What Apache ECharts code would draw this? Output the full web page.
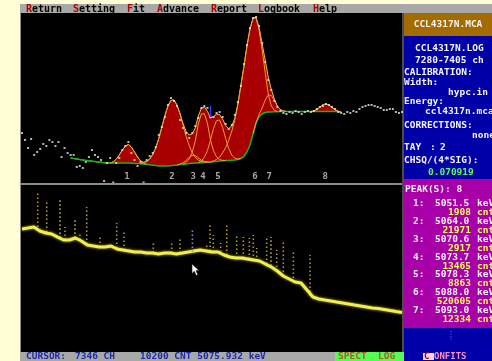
<!DOCTYPE html>
<html>
<head>
<meta charset="utf-8">
<script src="https://cdn.jsdelivr.net/npm/echarts@6/dist/echarts.min.js"></script>
<style>
  html, body { margin: 0; padding: 0; background: #fffed4; }
  #chart { width: 492px; height: 361px; }
</style>
</head>
<body>
<div id="chart"></div>
<script>
// ---- Fit window (channels 7280-7405) ----
const dataStart = 7280;
const dataCounts = [
  5100, 4400, 3600, 4500, 2900, 3200, 3500, 4000, 3800, 4400,
  4200, 3800, 4200, 2700, 3600, 3100, 2900, 2900, 1700, 1800,
  1600, 2200, 2700, 3400, 2900, 2700, 2400, 300, 2100, 2600,
  150, 2100, 2600, 3400, 3800, 4200, 3100, 2400, 1800, 2200,
  150, 2400, 2800, 3100, 3700, 4900, 5700, 6700, 7900, 8600,
  8300, 7800, 6400, 5600, 5100, 4600, 5100, 5800, 6600, 7600,
  7800, 7600, 6700, 6700, 7100, 7200, 6700, 6000, 5500, 5900,
  6900, 8200, 9800, 12000, 13900, 15600, 16600, 16700, 15800, 14100,
  12200, 10400, 9400, 8300, 7700, 7300, 7100, 7000, 7200, 7100,
  7300, 7200, 7000, 7200, 7300, 7200, 7300, 7500, 7700, 7800,
  8000, 7900, 7700, 7500, 7200, 7100, 7000, 7200, 7100, 7300,
  7200, 7500, 7700, 7800, 7900, 7900, 7800, 7700, 7600, 7400,
  7400, 7500, 7500, 7200, 7100, 7200
];

// step background under the fitted peaks
const fitStart = 7296;
const fitBaseline = [
  2600, 2550, 2500, 2450, 2400, 2360, 2320, 2280, 2240, 2200,
  2170, 2130, 2100, 2100, 2100, 2100, 2100, 2100, 2100, 2100,
  2080, 2060, 2040, 2020, 2000, 1960, 1920, 1880, 1840, 1800,
  1800, 1800, 1800, 1830, 1870, 1900, 1940, 1980, 2010, 2050,
  2070, 2090, 2110, 2130, 2150, 2170, 2190, 2220, 2250, 2300,
  2320, 2340, 2360, 2380, 2400, 2450, 2550, 2750, 3200, 3900,
  5000, 6100, 6700, 7000, 7150, 7200, 7210, 7220, 7230, 7240,
  7250, 7250, 7250, 7250, 7250, 7250, 7250, 7250, 7250, 7250,
  7250, 7250, 7250, 7250, 7250, 7250, 7250, 7250, 7230, 7200
];

// fitted peak components, counts above the background, one value per channel
const peakStarts = [7309, 7319, 7331, 7333, 7338, 7342, 7356, 7375];
const peak1 = [0, 100, 400, 800, 1300, 1700, 1850, 1620, 1140, 660, 280, 50, 0];
const peak2 = [0, 130, 290, 580, 1060, 1780, 2750, 3890, 5040, 5990, 6530, 6530, 5990, 5040, 3890, 2750, 1780, 1060, 580, 290, 130, 50, 0];
const peak3 = [0, 50, 150, 350, 620, 790, 740, 510, 260, 100, 30, 0];
const peak4 = [0, 150, 450, 1100, 2200, 3900, 4870, 4870, 3900, 2200, 1100, 450, 150, 40, 0];
const peak5 = [0, 180, 520, 1180, 2200, 3330, 4090, 4090, 3330, 2200, 1180, 520, 180, 50, 0];
const peak6 = [0, 100, 200, 400, 800, 1300, 2000, 2900, 4000, 5500, 7300, 9000, 10600, 11600, 11600, 10500, 8700, 6400, 4000, 1800, 600, 150, 0];
const peak7 = [0, 50, 250, 600, 1250, 1700, 1650, 1150, 550, 200, 50, 0];
const peak8 = [0, 50, 200, 450, 680, 750, 630, 400, 170, 50, 0];

const peakLabels = ['1', '2', '3', '4', '5', '6', '7', '8'];
const peakCentroids = [7314.5, 7329.3, 7336.3, 7339.5, 7344.5, 7356.6, 7361.3, 7379.7];
const peakEnergies = ['5051.5', '5064.0', '5070.6', '5073.7', '5078.3', '5088.0', '5093.0'];
const peakAreas = [1908, 21971, 2917, 13465, 8863, 520605, 12334];

const fitCursor = [7342, 6700, 7800];

// ---- Whole spectrum (log scale), one value every 256 channels ----
const specStep = 256;
const spectrumCounts = [
  23600, 25600, 27900, 20000, 16900, 15600, 12100, 9450, 9450, 11200,
  8700, 6230, 5740, 5280, 5280, 5740, 4470, 4110, 3790, 3480,
  3480, 3200, 3200, 2950, 3200, 3200, 2950, 3200, 3480, 3790,
  4110, 3790, 3480, 3480, 2710, 2300, 2110, 2110, 1950, 1790,
  1650, 1280, 1000, 716, 472, 368, 287, 264, 147, 82,
  70, 64, 59, 54, 50, 46, 42, 39, 36, 33,
  31.5, 29, 26.7, 24.6, 22.7
];
const lineChannels = [677, 1065, 1639, 1854, 2286, 2501, 2790, 3363, 4083, 4398, 5662, 6455, 6813, 7964, 8107, 8249, 8568, 8826, 9258, 9543, 9801, 9974, 10120, 10551, 10737, 10982, 11267, 11698, 12419];
const lineFloor = [27900, 18400, 11200, 9450, 11200, 9450, 6780, 5280, 4860, 4110, 3200, 3200, 3200, 3790, 3790, 3480, 3480, 2710, 2110, 2110, 1950, 1790, 1650, 1280, 1090, 716, 472, 287, 89.5];
const lineTop = [513000, 264000, 311000, 27900, 49900, 16900, 147000, 12100, 38900, 21700, 8000, 8000, 11200, 7360, 38900, 14300, 7360, 38900, 14300, 12100, 11200, 14300, 4860, 12100, 12100, 4110, 9450, 4110, 2710];
const cursorLine = [7346, 3480, 25600];

// ---- Screen texts ----
const menuItems = ['Return', 'Setting', 'Fit', 'Advance', 'Report', 'Logbook', 'Help'];
const menuX = [26, 73, 127, 157, 211, 258, 313];

// ---------------------------------------------------------------
const peaks = [peak1, peak2, peak3, peak4, peak5, peak6, peak7, peak8];
const baseAt = ch => fitBaseline[ch - fitStart];
const basePoints = fitBaseline.map((b, i) => [fitStart + i, b]);

const totalFit = fitBaseline.map((b, i) => {
  const ch = fitStart + i;
  let s = b;
  peaks.forEach((p, k) => {
    const j = ch - peakStarts[k];
    if (j >= 0 && j < p.length) s += p[j];
  });
  return [ch, s];
});

const MONO = 'DejaVu Sans Mono';

function txt(text, x, y, fill, size, align) {
  return {
    type: 'text', silent: true, z: 100,
    style: {
      text: text, x: x, y: y, fill: fill,
      fontFamily: MONO, fontSize: size || 9.5, fontWeight: 'bold',
      verticalAlign: 'middle', align: align || 'left'
    }
  };
}
function box(x, y, w, h, fill, z) {
  return { type: 'rect', silent: true, z: z || 0, shape: { x: x, y: y, width: w, height: h }, style: { fill: fill } };
}

const graphics = [
  box(20, 4, 472, 9, '#a8a8a8'),
  box(21, 13, 381, 339, '#000000'),
  box(20, 13, 1, 348, '#8a8a8a'),
  box(402, 13, 2, 339, '#4c4c4c'),
  box(404, 13, 88, 23, '#a46c00'),
  box(404, 36, 88, 143, '#0000a8'),
  box(404, 179, 88, 149, '#a800a8'),
  box(404, 328, 88, 33, '#0000a8'),
  box(20, 352, 315, 9, '#a8a8a8'),
  box(335, 352, 69, 9, '#54fc54'),
  box(21, 183, 381, 2, '#8c8c8c', 60)
];

// menu bar: hot key in red
menuItems.forEach((m, i) => {
  graphics.push(txt(m[0], menuX[i], 9, '#b00000', 10));
  graphics.push(txt(m.slice(1), menuX[i] + 6.02, 9, '#000000', 10));
});

// information panel
const W = '#f4f4f4';
graphics.push(
  txt('CCL4317N.MCA', 448, 25, W, 9.5, 'center'),
  txt('CCL4317N.LOG', 415, 49, W),
  txt('7280-7405 ch', 415, 61, W),
  txt('CALIBRATION:', 404, 73, W),
  txt('Width:', 404, 83, W),
  txt('hypc.in', 448, 93, W),
  txt('Energy:', 404, 102, W),
  txt('ccl4317n.mca', 425, 112, W),
  txt('CORRECTIONS:', 404, 126, W),
  txt('none', 472, 136, W),
  txt('TAY', 404, 148, W),
  txt(':', 430, 148, W),
  txt('2', 440, 148, W),
  txt('CHSQ/(4*SIG):', 404, 161, W),
  txt('0.070919', 428, 173, '#54fc54'),
  txt('PEAK(S): ' + peakLabels.length, 405, 190, W)
);

peakEnergies.forEach((e, i) => {
  const y = 204 + i * 17.7;
  graphics.push(txt((i + 1) + ':', 413, y, W));
  graphics.push(txt(e, 435, y, W));
  graphics.push(txt('keV', 477, y, W));
  graphics.push(txt(String(peakAreas[i]), 471, y + 9, '#fcfc54', 9.5, 'right'));
  graphics.push(txt('cnt', 477, y + 9, '#fcfc54'));
});

graphics.push(
  { type: 'line', silent: true, z: 100, shape: { x1: 451, y1: 331, x2: 451, y2: 341 }, style: { stroke: '#6c6cfc', lineWidth: 1, lineDash: [1, 1.5] } },
  box(423, 353, 11, 7, '#fcd4e4', 90),
  txt('C', 424, 357, '#a80000', 9),
  txt('ONFITS', 434, 357, '#fc8cbc', 9)
);

// status line
graphics.push(
  txt('CURSOR:', 26, 357, '#1c2ca8'),
  txt('7346 CH', 75, 357, '#1c2ca8'),
  txt('10200 CNT 5075.932 keV', 140, 357, '#1c2ca8'),
  txt('SPECT', 338, 357, '#b05828'),
  txt('LOG', 378, 357, '#b05828')
);

// mouse pointer
graphics.push({
  type: 'polygon', silent: true, z: 100,
  shape: { points: [[192, 264], [192, 273.5], [194.3, 271.3], [196.2, 275.5], [197.8, 274.8], [196, 270.6], [199, 270.6]] },
  style: { fill: '#ffffff', stroke: '#202020', lineWidth: 0.6 }
});

const series = [];

// red fill between the fitted total and the background
series.push({
  type: 'custom', xAxisIndex: 0, yAxisIndex: 0, z: 2, silent: true,
  data: [[fitStart, 0]],
  encode: { x: 0, y: 1 },
  renderItem: (params, api) => {
    const upper = totalFit.map(p => api.coord(p));
    const lower = basePoints.map(p => api.coord(p)).reverse();
    return { type: 'polygon', shape: { points: upper.concat(lower) }, style: { fill: '#a80000' } };
  }
});
// fitted total
series.push({
  type: 'line', xAxisIndex: 0, yAxisIndex: 0, z: 3, silent: true,
  data: totalFit, symbol: 'none',
  lineStyle: { color: '#f0c040', width: 1 }
});
// background
series.push({
  type: 'line', xAxisIndex: 0, yAxisIndex: 0, z: 4, silent: true,
  data: basePoints, symbol: 'none',
  lineStyle: { color: '#18b418', width: 1.5 }
});
// single components
peaks.forEach((p, k) => {
  series.push({
    type: 'line', xAxisIndex: 0, yAxisIndex: 0, z: 4, silent: true,
    data: p.map((h, i) => { const ch = peakStarts[k] + i; return [ch, baseAt(ch) + h]; }),
    symbol: 'none',
    lineStyle: { color: '#e8a030', width: 1 }
  });
});
// measured counts
series.push({
  type: 'scatter', xAxisIndex: 0, yAxisIndex: 0, z: 6, silent: true,
  data: dataCounts.map((c, i) => [dataStart + i, c]),
  symbol: 'rect', symbolSize: [2, 2],
  itemStyle: { color: '#e4e4e4' }
});
// peak numbers
series.push({
  type: 'scatter', xAxisIndex: 0, yAxisIndex: 0, z: 7, silent: true,
  data: peakCentroids.map((c, i) => ({ value: [c, 700], name: peakLabels[i] })),
  symbolSize: 0,
  label: { show: true, position: 'inside', formatter: '{b}', color: '#cfcfcf', fontFamily: MONO, fontSize: 9, fontWeight: 'bold' }
});
// cursor in the fit window
series.push({
  type: 'line', xAxisIndex: 0, yAxisIndex: 0, z: 7, silent: true,
  data: [[fitCursor[0], fitCursor[1]], [fitCursor[0], fitCursor[2]]],
  symbol: 'none', lineStyle: { color: '#3c3cff', width: 1.5 }
});

// spectrum lines as dotted columns
const spikeItem = color => (params, api) => {
  const a = api.coord([api.value(0), api.value(1)]);
  const b = api.coord([api.value(0), api.value(2)]);
  return {
    type: 'line',
    shape: { x1: a[0], y1: a[1], x2: b[0], y2: b[1] },
    style: { stroke: color, lineWidth: 1.6, lineDash: [1.6, 2.4] }
  };
};
series.push({
  type: 'custom', xAxisIndex: 1, yAxisIndex: 1, z: 3, silent: true,
  data: lineChannels.map((c, i) => [c, lineFloor[i], lineTop[i]]),
  encode: { x: 0, y: [1, 2] },
  renderItem: spikeItem('#a99b2c')
});
series.push({
  type: 'custom', xAxisIndex: 1, yAxisIndex: 1, z: 5, silent: true,
  data: [cursorLine],
  encode: { x: 0, y: [1, 2] },
  renderItem: spikeItem('#8088e8')
});
// continuum
series.push({
  type: 'line', xAxisIndex: 1, yAxisIndex: 1, z: 4, silent: true,
  data: spectrumCounts.map((c, i) => [i * specStep, c]),
  symbol: 'none',
  lineStyle: { color: '#f2ee4c', width: 3, shadowBlur: 3, shadowColor: '#b8b020' }
});

const chart = echarts.init(document.getElementById('chart'), null, { renderer: 'canvas' });
chart.setOption({
  animation: false,
  backgroundColor: '#fffed4',
  grid: [
    { left: 22, top: 14, width: 380, height: 170 },
    { left: 22, top: 184, width: 380, height: 166 }
  ],
  xAxis: [
    { gridIndex: 0, type: 'value', min: 7280, max: 7405, show: false },
    { gridIndex: 1, type: 'value', min: 0, max: 16384, show: false }
  ],
  yAxis: [
    { gridIndex: 0, type: 'value', min: 0, max: 17000, show: false },
    { gridIndex: 1, type: 'log', logBase: 10, min: 1, max: 1000000, show: false }
  ],
  graphic: graphics,
  series: series
});
</script>
</body>
</html>
